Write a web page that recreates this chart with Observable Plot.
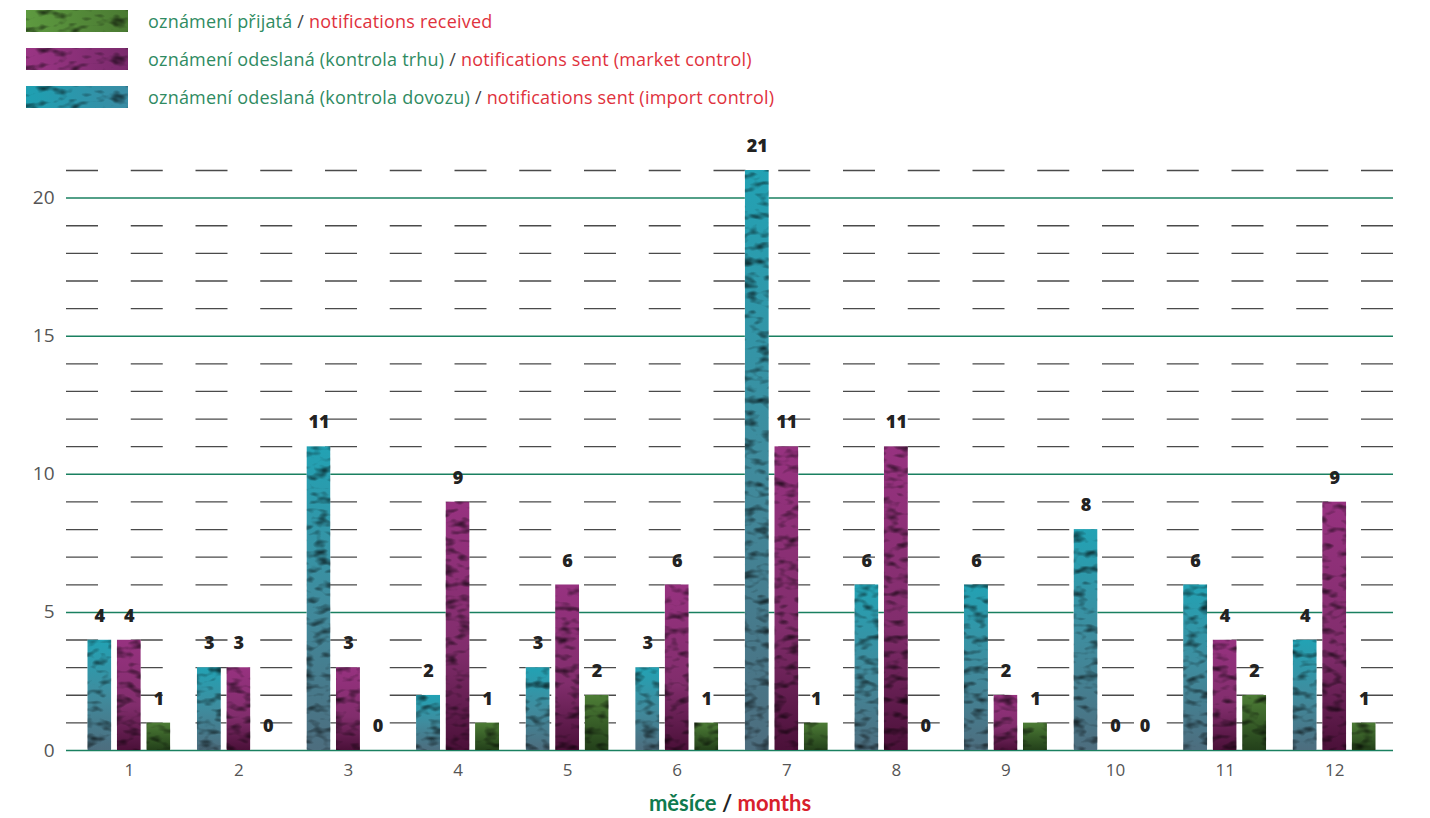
<!DOCTYPE html>
<html>
<head>
<meta charset="utf-8">
<script src="https://cdn.jsdelivr.net/npm/d3@7"></script>
<script src="https://cdn.jsdelivr.net/npm/@observablehq/plot@0.6"></script>
<style>
  html, body { margin: 0; padding: 0; background: #fff; }
  body { width: 1430px; height: 818px; position: relative; overflow: hidden; font-family: "Open Sans", Lato, sans-serif; }
  #legend { position: absolute; left: 0; top: 0; }
  .row { position: absolute; left: 26px; height: 22px; display: flex; align-items: center; white-space: nowrap; }
  .row svg { width: 102px; height: 22px; display: block; }
  .row span.t { margin-left: 20px; font-size: 18px; font-weight: 400; letter-spacing: 0.2px; }
  .cz { color: #2f8b62; }
  .sl { color: #444; }
  .en { color: #e0323d; }
  #chart { position: absolute; left: 0; top: 120px; }
  #xtitle { position: absolute; left: 15px; width: 1430px; top: 789px; text-align: center; font-family: Lato, sans-serif; font-weight: 700; font-size: 22px; }
  #xtitle .g { color: #0f7a4e; }
  #xtitle .s { color: #222; }
  #xtitle .r { color: #d8202c; }
</style>
</head>
<body>
<svg width="0" height="0" style="position:absolute">
  <defs>
    <filter id="tex" x="0" y="0" width="100%" height="100%" color-interpolation-filters="sRGB">
      <feTurbulence type="fractalNoise" baseFrequency="0.07 0.13" numOctaves="2" seed="11" result="n"/>
      <feColorMatrix in="n" type="matrix" values="1.7 0 0 0 0.12  1.7 0 0 0 0.12  1.7 0 0 0 0.12  0 0 0 0 1" result="m"/>
      <feBlend in="SourceGraphic" in2="m" mode="multiply" result="b"/>
      <feComposite in="b" in2="SourceGraphic" operator="in"/>
    </filter>
    <linearGradient id="gCyan" x1="0" y1="0" x2="0" y2="1">
      <stop offset="0" stop-color="#22a2b4"/>
      <stop offset="0.5" stop-color="#3f8c9e"/>
      <stop offset="1" stop-color="#4d6d7e"/>
    </linearGradient>
    <linearGradient id="gMag" x1="0" y1="0" x2="0" y2="1">
      <stop offset="0" stop-color="#973280"/>
      <stop offset="0.6" stop-color="#812d6c"/>
      <stop offset="1" stop-color="#4a1038"/>
    </linearGradient>
    <linearGradient id="gGreen" x1="0" y1="0" x2="0" y2="1">
      <stop offset="0" stop-color="#4d7d36"/>
      <stop offset="1" stop-color="#23401a"/>
    </linearGradient>
    <linearGradient id="lCyan" x1="0" y1="0" x2="1" y2="0">
      <stop offset="0" stop-color="#1ea0b2"/>
      <stop offset="1" stop-color="#3a8ca4"/>
    </linearGradient>
    <linearGradient id="lMag" x1="0" y1="0" x2="1" y2="0">
      <stop offset="0" stop-color="#9a3584"/>
      <stop offset="1" stop-color="#7a2a6c"/>
    </linearGradient>
    <linearGradient id="lGreen" x1="0" y1="0" x2="1" y2="0">
      <stop offset="0" stop-color="#5e9a40"/>
      <stop offset="1" stop-color="#4a7a32"/>
    </linearGradient>
  </defs>
</svg>

<div id="legend"></div>
<div id="chart"></div>
<div id="xtitle"><span class="g">měsíce</span> <span class="s">/</span> <span class="r">months</span></div>

<script>
// ---- data ----
const months = [1, 2, 3, 4, 5, 6, 7, 8, 9, 10, 11, 12];
const importControl = [4, 3, 11, 2, 3, 3, 21, 6, 6, 8, 6, 4];   // notifications sent (import control)
const marketControl = [4, 3, 3, 9, 6, 6, 11, 11, 2, 0, 4, 9];   // notifications sent (market control)
const received      = [1, 0, 0, 1, 2, 1, 1, 0, 1, 0, 2, 1];     // notifications received
const yMajorTicks = [0, 5, 10, 15, 20];
const yMinorTicks = [1, 2, 3, 4, 6, 7, 8, 9, 11, 12, 13, 14, 16, 17, 18, 19, 21];

const legendItems = [
  { cz: "oznámení přijatá", en: "notifications received", fill: "url(#lGreen)" },
  { cz: "oznámení odeslaná (kontrola trhu)", en: "notifications sent (market control)", fill: "url(#lMag)" },
  { cz: "oznámení odeslaná (kontrola dovozu)", en: "notifications sent (import control)", fill: "url(#lCyan)" }
];

// ---- legend ----
const legend = document.getElementById("legend");
legendItems.forEach((d, i) => {
  const row = document.createElement("div");
  row.className = "row";
  row.style.top = (10 + i * 38) + "px";
  row.innerHTML = `<svg viewBox="0 0 102 22"><rect width="102" height="22" fill="${d.fill}" filter="url(#tex)"/></svg>` +
    `<span class="t"><span class="cz">${d.cz}</span> <span class="sl">/</span> <span class="en">${d.en}</span></span>`;
  legend.appendChild(row);
});

// ---- table ----
const rows = (vals) => months.map((m, i) => ({ month: m, value: vals[i] }));
const cyanRows = rows(importControl);
const magRows = rows(marketControl);
const greenRows = rows(received);

const labelStyle = { fontSize: 18, fontWeight: 800, fill: "#222", lineAnchor: "middle", textAnchor: "middle", dy: -24 };

const chart = Plot.plot({
  width: 1430,
  height: 670,
  marginLeft: 66,
  marginRight: 37,
  marginTop: 50,
  marginBottom: 40,
  style: { fontFamily: "'Open Sans', Lato, sans-serif", background: "transparent", overflow: "visible" },
  x: { type: "band", domain: months, padding: 0, round: false, insetLeft: 8, insetRight: 4, label: null },
  y: { domain: [0, 21], label: null },
  marks: [
    Plot.ruleY(yMinorTicks, { stroke: "#4a4a4a", strokeWidth: 1.3, strokeDasharray: "32,32.75" }),
    Plot.ruleY(yMajorTicks, { stroke: "#1a8060", strokeWidth: 1.5 }),
    Plot.barY(cyanRows, { x: "month", y: "value", fill: "url(#gCyan)", insetLeft: 13.3, insetRight: 72.3 }),
    Plot.barY(magRows, { x: "month", y: "value", fill: "url(#gMag)", insetLeft: 42.8, insetRight: 42.8 }),
    Plot.barY(greenRows, { x: "month", y: "value", fill: "url(#gGreen)", insetLeft: 72.3, insetRight: 13.3 }),
    Plot.text(cyanRows, { x: "month", y: "value", text: "value", dx: -29.5, ...labelStyle }),
    Plot.text(magRows, { x: "month", y: "value", text: "value", dx: 0, ...labelStyle }),
    Plot.text(greenRows, { x: "month", y: "value", text: "value", dx: 29.5, ...labelStyle }),
    Plot.axisY({ ticks: yMajorTicks, tickSize: 0, tickPadding: 12, fontSize: 19, color: "#555", label: null }),
    Plot.axisX({ tickSize: 0, tickPadding: 13, fontSize: 17, color: "#555", label: null })
  ]
});
document.getElementById("chart").appendChild(chart);
d3.select(chart).selectAll('g[aria-label="bar"]').attr("filter", "url(#tex)");
</script>
</body>
</html>
